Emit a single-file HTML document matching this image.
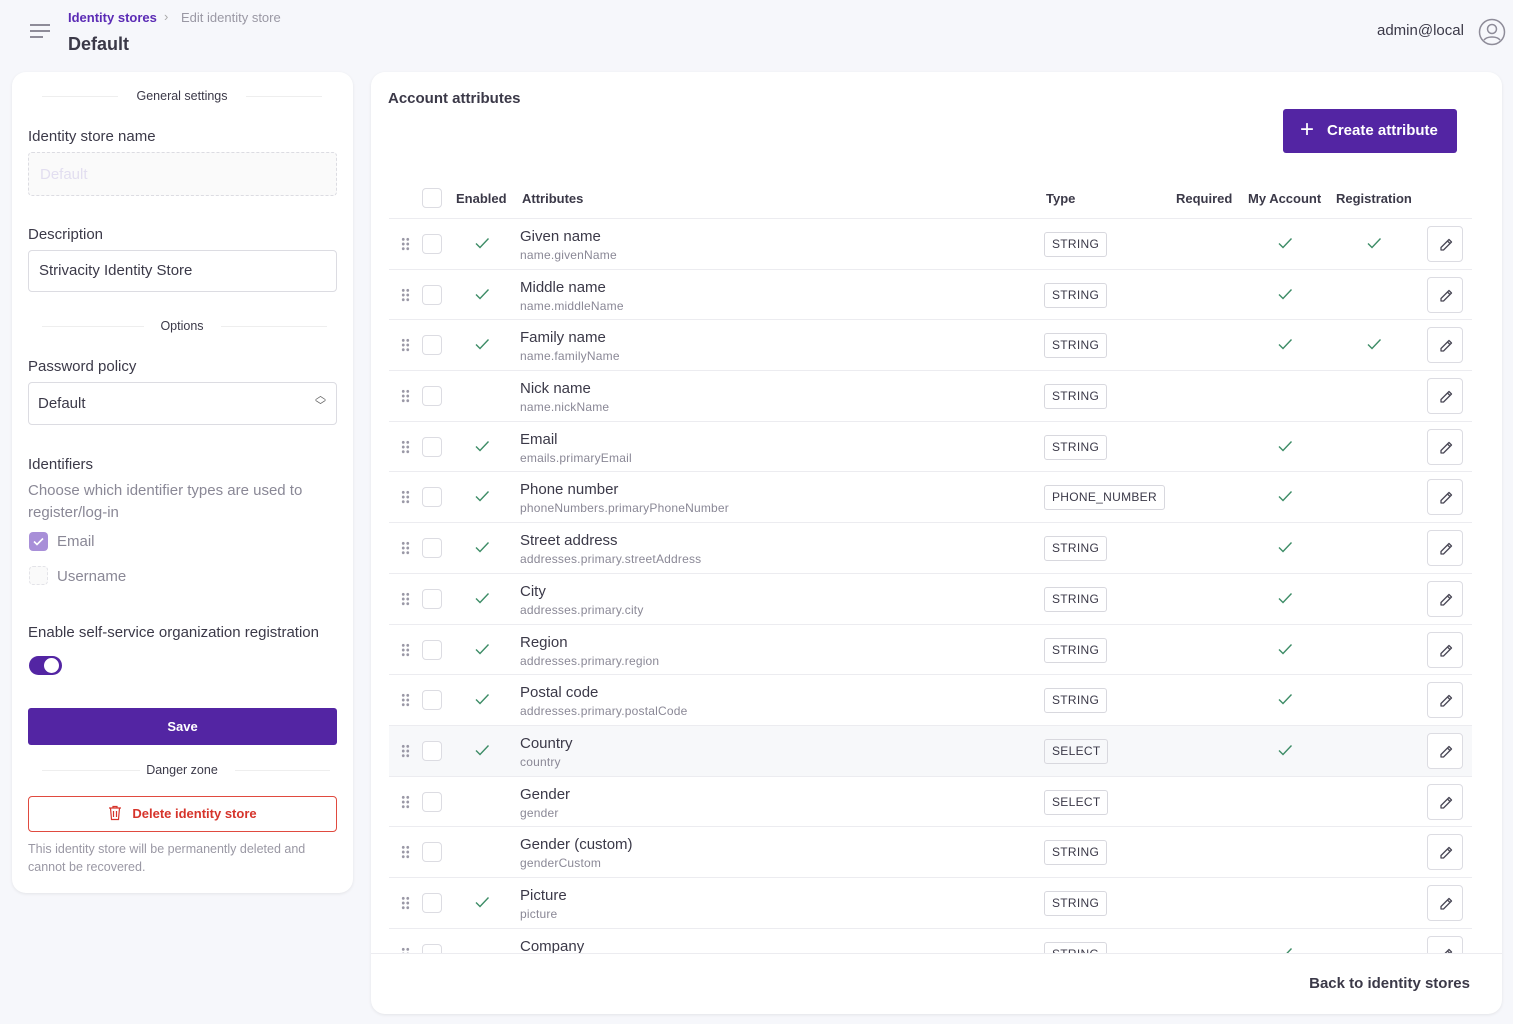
<!DOCTYPE html>
<html><head><meta charset="utf-8">
<style>
*{box-sizing:border-box;margin:0;padding:0}
body{width:1513px;height:1024px;background:#f6f7fb;font-family:"Liberation Sans",sans-serif;color:#3b3948;position:relative;overflow:hidden}
.a{position:absolute}
.card{position:absolute;background:#fff;border-radius:14px;box-shadow:0 1px 3px rgba(0,0,0,.08)}
.lbl{position:absolute;left:28px;font-size:15px;color:#3b3948}
.div{position:absolute;left:28px;width:300px;height:1px;background:#eee}
.divt{position:absolute;left:0;width:340px;text-align:center;font-size:12.5px;color:#3b3948}
.row{position:absolute;left:389px;width:1083px;height:51px;border-top:1px solid #ececf0}
.dr{position:absolute;left:12px;top:18px;width:9px;height:14px;background:radial-gradient(circle,#9a98a6 1.3px,transparent 1.6px) 0 0/4.5px 4.7px}
.cb{position:absolute;left:33px;top:15px;width:20px;height:20px;border:1px solid #dcdce2;border-radius:4px;background:#fff}
.nm{position:absolute;left:131px;top:9px;font-size:15px;color:#3b3948}
.sb{position:absolute;left:131px;top:29px;font-size:12px;color:#8a8896;letter-spacing:.2px}
.bd{position:absolute;left:655px;top:13px;height:25px;line-height:23px;padding:0 7px;font-size:12px;border:1px solid #d8d8de;border-radius:3px;color:#3b3948;letter-spacing:.3px}
.ck{position:absolute;top:18px;width:16px;height:12px}
.e{left:85px}.m{left:888px}.r{left:977px}
.ed{position:absolute;left:1038px;top:7px;width:36px;height:36px;border:1px solid #dcdce2;border-radius:4px;background:#fff}
.ed svg{position:absolute;left:10px;top:10px}
</style></head><body>
<svg style="display:none"><defs>
<symbol id="c" viewBox="0 0 16 12"><path d="M2 6.5l4 4L14.5 1.5" fill="none" stroke="#3d8c66" stroke-width="1.4"/></symbol>
<symbol id="p" viewBox="0 0 16 16"><path d="M11 2.5l2.5 2.5L5.5 13H3v-2.5z M9.5 4l2.5 2.5" fill="none" stroke="#4a4856" stroke-width="1.3" stroke-linejoin="round"/></symbol>
</defs></svg>

<!-- header -->
<div class="a" style="left:30px;top:24px;width:20px;height:2px;background:#8e8c99"></div>
<div class="a" style="left:30px;top:30px;width:20px;height:2px;background:#8e8c99"></div>
<div class="a" style="left:30px;top:36px;width:13px;height:2px;background:#8e8c99"></div>
<div class="a" style="left:68px;top:10px;font-size:13px;color:#5b2bb5;font-weight:600">Identity stores</div>
<div class="a" style="left:164px;top:9px;font-size:13px;color:#aaa">›</div>
<div class="a" style="left:181px;top:10px;font-size:13px;color:#9a98a4">Edit identity store</div>
<div class="a" style="left:68px;top:34px;font-size:18px;font-weight:600;color:#3b3948">Default</div>
<div class="a" style="left:1377px;top:22px;font-size:15px;color:#3b3948">admin@local</div>
<svg class="a" style="left:1478px;top:18px" width="28" height="28" viewBox="0 0 28 28"><circle cx="14" cy="14" r="12.5" fill="none" stroke="#8e8c99" stroke-width="1.5"/><circle cx="14" cy="11" r="4.5" fill="none" stroke="#8e8c99" stroke-width="1.5"/><path d="M6 22c3-4 13-4 16 0" fill="none" stroke="#8e8c99" stroke-width="1.5"/></svg>

<!-- left card -->
<div class="card" style="left:12px;top:72px;width:341px;height:821px">
  <div class="div" style="left:30px;top:24px;width:76px"></div><div class="div" style="left:234px;top:24px;width:76px"></div>
  <div class="divt" style="top:17px">General settings</div>
  <div class="lbl" style="left:16px;top:56px">Identity store name</div>
  <div class="a" style="left:16px;top:80px;width:309px;height:44px;border:1px dashed #dcdce2;border-radius:4px;background:#fafafa;color:#e2def0;font-size:15px;padding:13px 11px">Default</div>
  <div class="lbl" style="left:16px;top:154px">Description</div>
  <div class="a" style="left:16px;top:178px;width:309px;height:42px;border:1px solid #dcdce2;border-radius:4px;font-size:15px;padding:11px 10px">Strivacity Identity Store</div>
  <div class="div" style="left:30px;top:254px;width:102px"></div><div class="div" style="left:209px;top:254px;width:106px"></div>
  <div class="divt" style="top:247px">Options</div>
  <div class="lbl" style="left:16px;top:286px">Password policy</div>
  <div class="a" style="left:16px;top:310px;width:309px;height:43px;border:1px solid #dcdce2;border-radius:4px;font-size:15px;padding:12px 9px">Default<span style="position:absolute;right:10px;top:8px;font-size:11px;line-height:10px;color:#666">︿<br>﹀</span></div>
  <div class="lbl" style="left:16px;top:384px">Identifiers</div>
  <div class="a" style="left:16px;top:408px;width:300px;font-size:15px;line-height:22px;color:#8a8896">Choose which identifier types are used to register/log-in</div>
  <div class="a" style="left:17px;top:460px;width:19px;height:19px;border-radius:4px;background:#a88fd8"><svg width="19" height="19"><path d="M5 9.5l3 3 6-6" fill="none" stroke="#fff" stroke-width="1.6"/></svg></div>
  <div class="a" style="left:45px;top:461px;font-size:15px;color:#8a8896">Email</div>
  <div class="a" style="left:17px;top:494px;width:19px;height:19px;border-radius:4px;border:1px dashed #e3e3e8;background:#fafafa"></div>
  <div class="a" style="left:45px;top:496px;font-size:15px;color:#8a8896">Username</div>
  <div class="lbl" style="left:16px;top:552px">Enable self-service organization registration</div>
  <div class="a" style="left:17px;top:584px;width:33px;height:19px;border-radius:10px;background:#5325a3"><div class="a" style="left:15px;top:2px;width:15px;height:15px;border-radius:50%;background:#fff"></div></div>
  <div class="a" style="left:16px;top:636px;width:309px;height:37px;background:#5325a3;border-radius:3px;color:#fff;font-size:13px;font-weight:700;text-align:center;line-height:37px">Save</div>
  <div class="div" style="left:30px;top:698px;width:98px"></div><div class="div" style="left:223px;top:698px;width:95px"></div>
  <div class="divt" style="top:691px">Danger zone</div>
  <div class="a" style="left:16px;top:724px;width:309px;height:36px;border:1px solid #e04a3f;border-radius:4px;color:#d6342b;font-size:13px;font-weight:700;text-align:center;line-height:34px"><svg width="14" height="16" viewBox="0 0 14 16" style="vertical-align:-3px;margin-right:10px"><path d="M1 3h12M5 3V1.5h4V3M2.5 3l1 11.5h7l1-11.5M5.5 6v6M8.5 6v6" fill="none" stroke="#d6342b" stroke-width="1.2"/></svg>Delete identity store</div>
  <div class="a" style="left:16px;top:768px;width:310px;font-size:12.5px;line-height:18px;color:#9a98a4">This identity store will be permanently deleted and cannot be recovered.</div>
</div>

<!-- right card -->
<div class="card" style="left:371px;top:72px;width:1131px;height:942px"></div>
<div class="a" style="left:388px;top:90px;font-size:15px;font-weight:600;color:#3b3948">Account attributes</div>
<div class="a" style="left:1283px;top:109px;width:174px;height:44px;background:#5325a3;border-radius:3px;color:#fff;font-size:15px;font-weight:700;line-height:44px;padding-left:44px"><span style="position:absolute;left:17px;top:-1px;font-size:24px;font-weight:300">+</span>Create attribute</div>

<div class="a" style="left:422px;top:188px;width:20px;height:20px;border:1px solid #dcdce2;border-radius:4px"></div>
<div class="a" style="left:456px;top:191px;font-size:13px;font-weight:600">Enabled</div>
<div class="a" style="left:522px;top:191px;font-size:13px;font-weight:600">Attributes</div>
<div class="a" style="left:1046px;top:191px;font-size:13px;font-weight:600">Type</div>
<div class="a" style="left:1176px;top:191px;font-size:13px;font-weight:600">Required</div>
<div class="a" style="left:1248px;top:191px;font-size:13px;font-weight:600">My Account</div>
<div class="a" style="left:1336px;top:191px;font-size:13px;font-weight:600">Registration</div>

<div class="a" style="left:0;top:0;width:1513px;height:953px;overflow:hidden">
<div class="row" style="top:218px"><div class="dr"></div><div class="cb"></div><svg class="ck e"><use href="#c"/></svg><div class="nm">Given name</div><div class="sb">name.givenName</div><div class="bd">STRING</div><svg class="ck m"><use href="#c"/></svg><svg class="ck r"><use href="#c"/></svg><div class="ed"><svg width="16" height="16"><use href="#p"/></svg></div></div>
<div class="row" style="top:269px"><div class="dr"></div><div class="cb"></div><svg class="ck e"><use href="#c"/></svg><div class="nm">Middle name</div><div class="sb">name.middleName</div><div class="bd">STRING</div><svg class="ck m"><use href="#c"/></svg><div class="ed"><svg width="16" height="16"><use href="#p"/></svg></div></div>
<div class="row" style="top:319px"><div class="dr"></div><div class="cb"></div><svg class="ck e"><use href="#c"/></svg><div class="nm">Family name</div><div class="sb">name.familyName</div><div class="bd">STRING</div><svg class="ck m"><use href="#c"/></svg><svg class="ck r"><use href="#c"/></svg><div class="ed"><svg width="16" height="16"><use href="#p"/></svg></div></div>
<div class="row" style="top:370px"><div class="dr"></div><div class="cb"></div><div class="nm">Nick name</div><div class="sb">name.nickName</div><div class="bd">STRING</div><div class="ed"><svg width="16" height="16"><use href="#p"/></svg></div></div>
<div class="row" style="top:421px"><div class="dr"></div><div class="cb"></div><svg class="ck e"><use href="#c"/></svg><div class="nm">Email</div><div class="sb">emails.primaryEmail</div><div class="bd">STRING</div><svg class="ck m"><use href="#c"/></svg><div class="ed"><svg width="16" height="16"><use href="#p"/></svg></div></div>
<div class="row" style="top:471px"><div class="dr"></div><div class="cb"></div><svg class="ck e"><use href="#c"/></svg><div class="nm">Phone number</div><div class="sb">phoneNumbers.primaryPhoneNumber</div><div class="bd">PHONE_NUMBER</div><svg class="ck m"><use href="#c"/></svg><div class="ed"><svg width="16" height="16"><use href="#p"/></svg></div></div>
<div class="row" style="top:522px"><div class="dr"></div><div class="cb"></div><svg class="ck e"><use href="#c"/></svg><div class="nm">Street address</div><div class="sb">addresses.primary.streetAddress</div><div class="bd">STRING</div><svg class="ck m"><use href="#c"/></svg><div class="ed"><svg width="16" height="16"><use href="#p"/></svg></div></div>
<div class="row" style="top:573px"><div class="dr"></div><div class="cb"></div><svg class="ck e"><use href="#c"/></svg><div class="nm">City</div><div class="sb">addresses.primary.city</div><div class="bd">STRING</div><svg class="ck m"><use href="#c"/></svg><div class="ed"><svg width="16" height="16"><use href="#p"/></svg></div></div>
<div class="row" style="top:624px"><div class="dr"></div><div class="cb"></div><svg class="ck e"><use href="#c"/></svg><div class="nm">Region</div><div class="sb">addresses.primary.region</div><div class="bd">STRING</div><svg class="ck m"><use href="#c"/></svg><div class="ed"><svg width="16" height="16"><use href="#p"/></svg></div></div>
<div class="row" style="top:674px"><div class="dr"></div><div class="cb"></div><svg class="ck e"><use href="#c"/></svg><div class="nm">Postal code</div><div class="sb">addresses.primary.postalCode</div><div class="bd">STRING</div><svg class="ck m"><use href="#c"/></svg><div class="ed"><svg width="16" height="16"><use href="#p"/></svg></div></div>
<div class="row" style="top:725px;background:#f7f8fa"><div class="dr"></div><div class="cb"></div><svg class="ck e"><use href="#c"/></svg><div class="nm">Country</div><div class="sb">country</div><div class="bd">SELECT</div><svg class="ck m"><use href="#c"/></svg><div class="ed"><svg width="16" height="16"><use href="#p"/></svg></div></div>
<div class="row" style="top:776px"><div class="dr"></div><div class="cb"></div><div class="nm">Gender</div><div class="sb">gender</div><div class="bd">SELECT</div><div class="ed"><svg width="16" height="16"><use href="#p"/></svg></div></div>
<div class="row" style="top:826px"><div class="dr"></div><div class="cb"></div><div class="nm">Gender (custom)</div><div class="sb">genderCustom</div><div class="bd">STRING</div><div class="ed"><svg width="16" height="16"><use href="#p"/></svg></div></div>
<div class="row" style="top:877px"><div class="dr"></div><div class="cb"></div><svg class="ck e"><use href="#c"/></svg><div class="nm">Picture</div><div class="sb">picture</div><div class="bd">STRING</div><div class="ed"><svg width="16" height="16"><use href="#p"/></svg></div></div>
<div class="row" style="top:928px"><div class="dr"></div><div class="cb"></div><div class="nm">Company</div><div class="sb">company</div><div class="bd">STRING</div><svg class="ck m"><use href="#c"/></svg><div class="ed"><svg width="16" height="16"><use href="#p"/></svg></div></div>
</div>
<div class="a" style="left:371px;top:953px;width:1131px;height:1px;background:#ececf0"></div>
<div class="a" style="left:1200px;width:270px;top:975px;text-align:right;font-size:15px;font-weight:600;color:#3b3948">Back to identity stores</div>
</body></html>
